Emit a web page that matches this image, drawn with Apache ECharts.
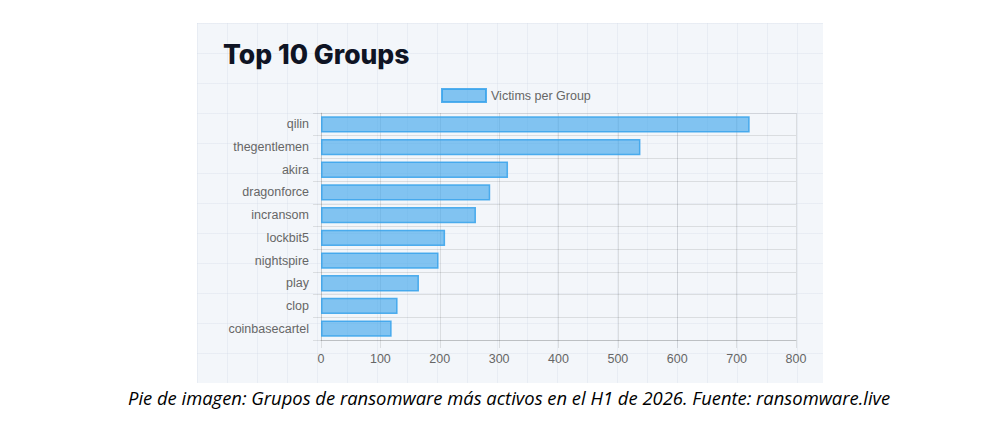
<!DOCTYPE html>
<html>
<head>
<meta charset="utf-8">
<title>Top 10 Groups</title>
<script src="https://cdn.jsdelivr.net/npm/echarts@6/dist/echarts.min.js"></script>
<style>
  html, body { margin: 0; padding: 0; background: #fff; }
  #wrap { position: relative; width: 1000px; height: 431px; overflow: hidden; }
  /* panel de la captura, con cuadricula tenue */
  #panel {
    position: absolute; left: 197px; top: 23px; width: 626px; height: 360px;
    background-color: #f3f6fa;
    background-image:
      linear-gradient(to right, rgba(200,210,225,0.25) 1px, transparent 1px),
      linear-gradient(to bottom, rgba(200,210,225,0.25) 1px, transparent 1px);
    background-size: 30px 30px;
  }
  #chart { position: absolute; left: 0; top: 0; width: 1000px; height: 431px; }
</style>
</head>
<body>
<div id="wrap">
  <div id="panel"></div>
  <div id="chart"></div>
</div>
<script>
// datos
var groups = ['qilin', 'thegentlemen', 'akira', 'dragonforce', 'incransom',
  'lockbit5', 'nightspire', 'play', 'clop', 'coinbasecartel'];
var victims = [722, 538, 315, 285, 261, 209, 198, 165, 129, 119];
var seriesName = 'Victims per Group';
var chartTitle = 'Top 10 Groups';
var caption = 'Pie de imagen: Grupos de ransomware más activos en el H1 de 2026. Fuente: ransomware.live';

var gridColor = 'rgba(0,0,0,0.1)';
var labelColor = '#666';

var myChart = echarts.init(document.getElementById('chart'), null, { renderer: 'svg' });

var option = {
  backgroundColor: 'transparent',
  animation: false,
  title: {
    text: chartTitle,
    left: 223,
    top: 40,
    padding: 0,
    textStyle: {
      fontFamily: 'Inter',
      fontWeight: 800,
      fontSize: 26.5,
      color: '#0f1424'
    }
  },
  legend: {
    data: [seriesName],
    left: 441,
    top: 88,
    padding: 0,
    icon: 'rect',
    itemWidth: 44,
    itemHeight: 13,
    itemGap: 6,
    textStyle: { color: labelColor, fontSize: 12.5, fontFamily: 'Liberation Sans' }
  },
  grid: {
    left: 321,
    right: 204,
    top: 113,
    bottom: 91,
    containLabel: false
  },
  xAxis: {
    type: 'value',
    min: 0,
    max: 800,
    interval: 100,
    axisLine: { show: true, lineStyle: { color: 'rgba(0,0,0,0.13)' } },
    axisTick: { show: true, length: 8, lineStyle: { color: gridColor } },
    axisLabel: { color: labelColor, fontSize: 12.5, fontFamily: 'Liberation Sans', margin: 12 },
    splitLine: { show: true, lineStyle: { color: gridColor } }
  },
  yAxis: {
    type: 'category',
    inverse: true,
    data: groups,
    axisLine: { show: true, lineStyle: { color: gridColor } },
    axisTick: { show: true, length: 8, lineStyle: { color: gridColor } },
    axisLabel: { color: labelColor, fontSize: 12.5, fontFamily: 'Liberation Sans', margin: 12 },
    splitLine: { show: true, lineStyle: { color: gridColor } }
  },
  series: [{
    name: seriesName,
    type: 'bar',
    data: victims,
    barCategoryGap: '28%',
    itemStyle: {
      color: 'rgba(54,162,235,0.6)',
      borderColor: 'rgba(54,162,235,0.85)',
      borderWidth: 1.5
    }
  }],
  graphic: [{
    type: 'text',
    left: 128,
    top: 388,
    style: {
      text: caption,
      fontFamily: 'Open Sans',
      fontStyle: 'italic',
      fontSize: 18.4,
      fill: '#000'
    }
  }]
};

myChart.setOption(option);
</script>
</body>
</html>
